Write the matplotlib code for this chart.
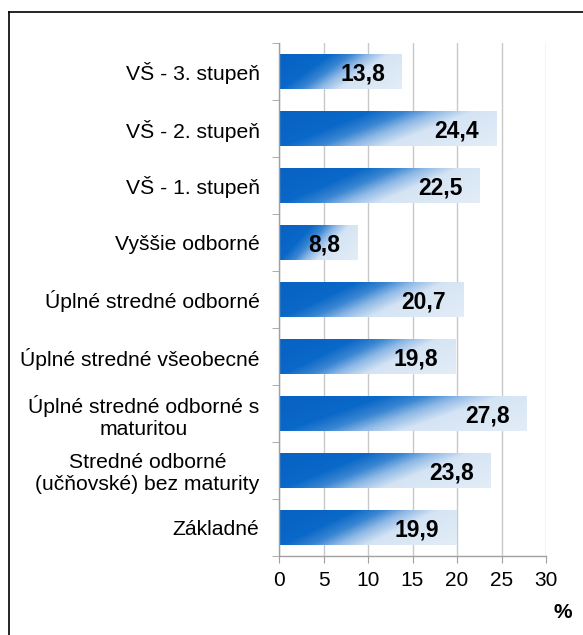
import numpy as np
import matplotlib
matplotlib.use("Agg")
import matplotlib.pyplot as plt
from matplotlib.colors import LinearSegmentedColormap
from matplotlib.patches import Rectangle

plt.rcParams['font.family'] = ['Liberation Sans', 'DejaVu Sans']

categories = ["VŠ - 3. stupeň", "VŠ - 2. stupeň", "VŠ - 1. stupeň", "Vyššie odborné",
              "Úplné stredné odborné", "Úplné stredné všeobecné",
              "Úplné stredné odborné s\nmaturitou", "Stredné odborné\n(učňovské) bez maturity",
              "Základné"]
values = [13.8, 24.4, 22.5, 8.8, 20.7, 19.8, 27.8, 23.8, 19.9]
value_labels = ["13,8", "24,4", "22,5", "8,8", "20,7", "19,8", "27,8", "23,8", "19,9"]
xticks = [0, 5, 10, 15, 20, 25, 30]

W, H = 583, 635
fig = plt.figure(figsize=(W / 100, H / 100), dpi=100)
ax = fig.add_axes([279 / W, 1 - 556 / H, (546 - 279) / W, (556 - 43) / H])

cmap = LinearSegmentedColormap.from_list(
    "bar", [(0.0, "#0862c2"), (0.30, "#0a68c8"), (0.42, "#3a86d2"), (0.52, "#8fb9e6"),
            (0.64, "#d5e4f4"), (1.0, "#e3edf7")])

n = len(categories)
ypos = np.arange(n)
bh = 0.6
ax.set_xlim(0, 30)
ax.set_ylim(n - 0.5, -0.5)

gx = np.linspace(0, 1, 300)
gy = np.linspace(0, 1, 60)   # 0 = top, 1 = bottom
GX, GY = np.meshgrid(gx, gy)
grad = (GX + 0.4 * GY) / 1.4
for y, v, lab in zip(ypos, values, value_labels):
    im = ax.imshow(grad, cmap=cmap, vmin=0, vmax=1, extent=(0, v, y + bh / 2, y - bh / 2),
                   aspect='auto', zorder=2, interpolation='bilinear', origin='upper')
    rect = Rectangle((0, y - bh / 2), v, bh, transform=ax.transData, facecolor='none', edgecolor='none')
    ax.add_patch(rect)
    im.set_clip_path(rect)
    ax.text(v - 1.9, y + 0.04, lab, ha='right', va='center', fontsize=16.5,
            fontweight='bold', color='black', zorder=3)

ax.set_aspect('auto')
ax.set_xlim(0, 30)
ax.set_ylim(n - 0.5, -0.5)

ax.set_xticks(xticks)
ax.set_xticklabels([str(t) for t in xticks], fontsize=15)
ax.set_yticks(ypos)
ax.set_yticklabels(categories, fontsize=15.2, multialignment='center')
ax.tick_params(axis='y', length=0, pad=14)
ax.set_yticks(np.arange(-0.5, n, 1), minor=True)
ax.tick_params(axis='y', which='minor', length=5, color='#a0a0a0', direction='out')
ax.tick_params(axis='x', length=5, color='#a0a0a0', direction='out', pad=6)

ax.grid(axis='x', color='#c8c8c8', linewidth=1, zorder=0)
ax.set_axisbelow(True)
for s in ['top', 'right']:
    ax.spines[s].set_visible(False)
for s in ['left', 'bottom']:
    ax.spines[s].set_color('#a0a0a0')
    ax.spines[s].set_linewidth(1)

fig.text(563 / W, 1 - 613 / H, "%", ha='center', va='center', fontsize=15, fontweight='bold')

# outer frame (left and top visible)
fig.add_artist(plt.Line2D([8.5 / W, 8.5 / W], [0, 1 - 11.5 / H], transform=fig.transFigure,
                          color='black', linewidth=1.2))
fig.add_artist(plt.Line2D([8.5 / W, 1], [1 - 11.5 / H, 1 - 11.5 / H], transform=fig.transFigure,
                          color='black', linewidth=1.2))

fig.savefig("out.png", dpi=100)
